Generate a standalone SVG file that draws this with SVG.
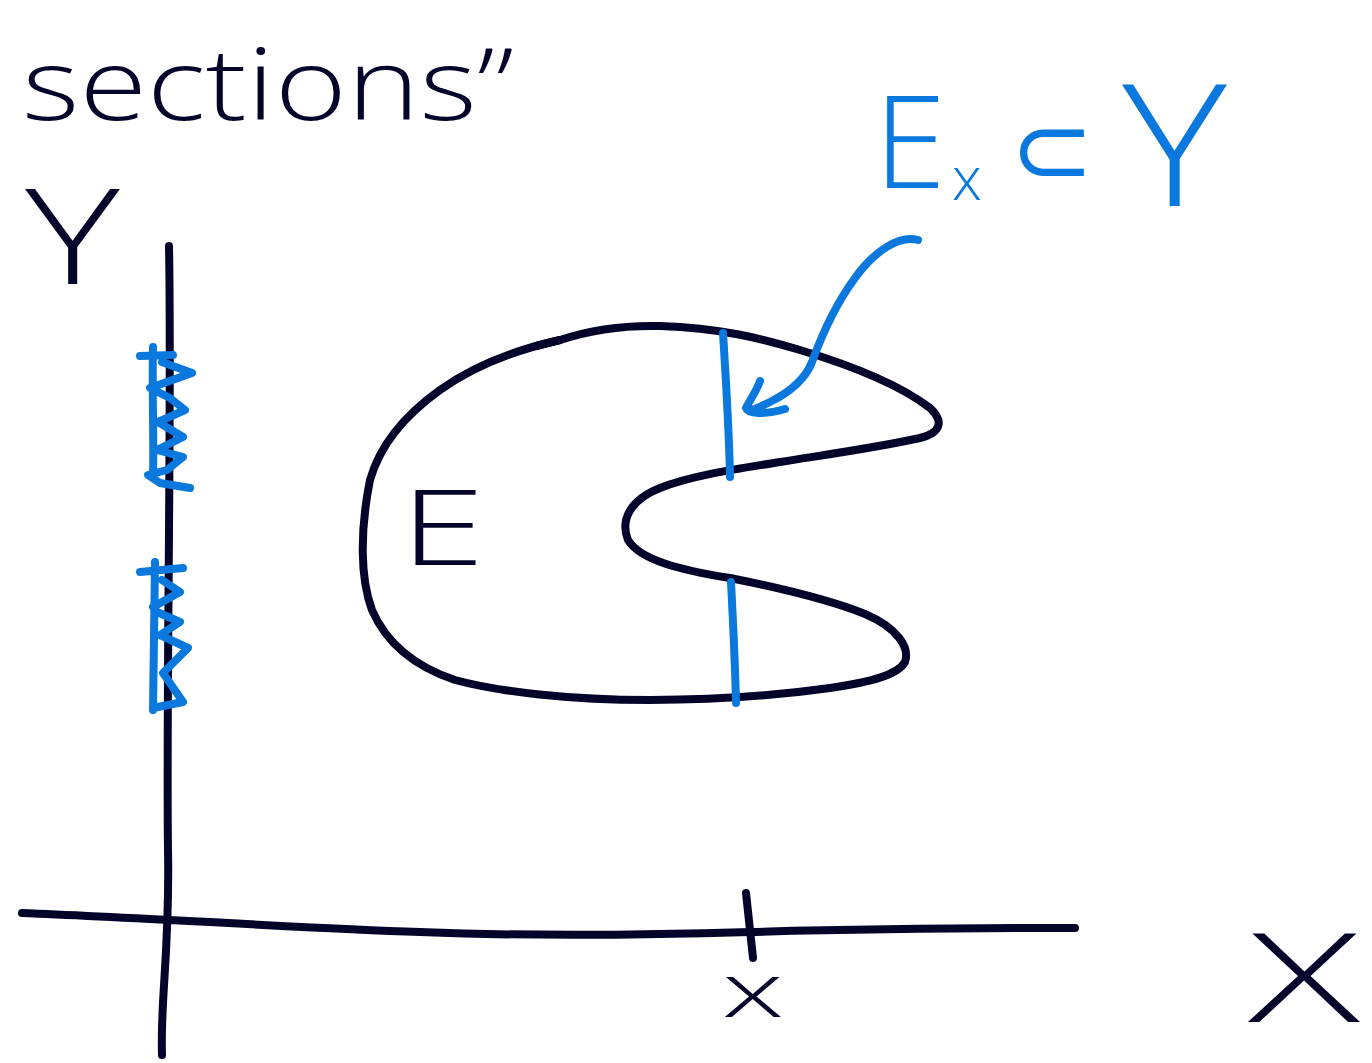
<svg xmlns="http://www.w3.org/2000/svg" width="1372" height="1063" viewBox="0 0 1372 1063">
<style>
.ink{fill:none;stroke:#04042a;stroke-width:8;stroke-linecap:round;stroke-linejoin:round}
.blue{fill:none;stroke:#0a78dc;stroke-width:8;stroke-linecap:round;stroke-linejoin:round}
.t{font-family:"Open Sans","Liberation Sans","DejaVu Sans",sans-serif;font-weight:300;fill:#04042a}
.tb{font-family:"Open Sans","DejaVu Sans","Liberation Sans",sans-serif;font-weight:300;fill:#0a78dc}
.sym{font-family:"DejaVu Sans","Liberation Sans",sans-serif;fill:#0a78dc}
</style>
<rect width="1372" height="1063" fill="#ffffff"/>
<g id="title"><text class="t" x="22" y="120" font-size="100" textLength="492" lengthAdjust="spacingAndGlyphs">sections”</text></g>
<g id="axes">
<path class="ink" d="M169,246 C172,400 166,700 168,850 C170,950 160,1000 162,1055"/>
<path class="ink" d="M22,913 C150,918 300,928 420,932 C520,936 650,935 750,932 C900,928 1000,928 1075,928"/>
<path class="ink" d="M746,893 L750,930 L753,958"/>
</g>
<g id="label-Y"><text class="t" x="25" y="284" font-size="132" textLength="95" lengthAdjust="spacingAndGlyphs">Y</text></g>
<g id="label-X"><text class="t" x="1248" y="1022" font-size="124" textLength="112" lengthAdjust="spacingAndGlyphs">X</text></g>
<g id="label-x"><text class="t" x="722" y="1017" font-size="75" textLength="62" lengthAdjust="spacingAndGlyphs">x</text></g>
<g id="set-E">
<path class="ink" d="M560,340 C590,330 620,325 660,326 C720,328 760,338 800,350 C850,365 900,385 930,408 C945,422 940,433 920,438 C880,447 830,454 780,462 C730,470 690,476 660,488 C630,500 620,520 628,540 C640,560 680,570 730,578 C780,588 830,600 865,614 C898,628 910,648 905,662 C898,675 870,682 830,688 C780,695 720,700 650,700 C570,700 500,692 455,680 C410,665 385,640 372,610 C360,578 360,530 370,480 C380,445 405,415 440,390 C475,365 515,350 560,340 Z"/>
<path class="ink" stroke-width="11" d="M536,346 L560,340"/>
<text class="t" x="400" y="565" font-size="105" textLength="85" lengthAdjust="spacingAndGlyphs">E</text>
</g>
<g id="sections">
<path class="blue" d="M723,333 C726,380 729,430 730,477"/>
<path class="blue" d="M731,582 C733,620 735,660 736,703"/>
<path class="blue" d="M140,356 L173,355 M153,347 C152,390 154,440 153,477 M162,362 L192,373 L150,388 L170,398 L185,410 L158,422 L183,437 L157,450 L183,457 L167,470 L148,475 L160,483 L190,488"/>
<path class="blue" d="M140,572 L183,568 M155,562 C154,610 154,660 153,710 M162,580 L180,592 L153,607 L157,612 L180,622 L160,635 L188,648 L163,673 L183,702 L153,708"/>
</g>
<g id="label-ExY">
<text class="tb" x="874" y="188" font-size="130" textLength="72" lengthAdjust="spacingAndGlyphs">E</text>
<text class="tb" x="952" y="200" font-size="60">x</text>
<text class="sym" x="1010" y="184" font-size="100">⊂</text>
<text class="tb" x="1122" y="206" font-size="170" textLength="105" lengthAdjust="spacingAndGlyphs">Y</text>
</g>
<g id="connectors">
<path class="blue" d="M918,240 C900,235 875,250 855,278 C835,305 820,340 812,362 C805,380 790,392 770,402 C760,407 752,410 750,410 M760,381 C756,392 750,400 746,408 C748,414 765,415 785,409"/>
</g>
</svg>
